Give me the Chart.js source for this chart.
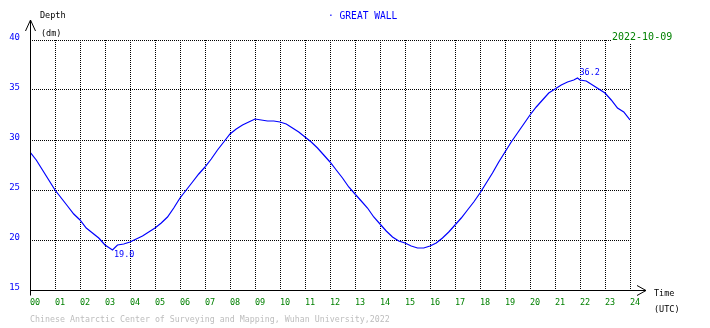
<!DOCTYPE html>
<html>
<head>
<meta charset="utf-8">
<script src="https://cdn.jsdelivr.net/npm/chart.js@4/dist/chart.umd.min.js"></script>
<style>
html,body{margin:0;padding:0;background:#fff;}
canvas{display:block;}
</style>
</head>
<body>
<canvas id="c" width="710" height="328"></canvas>
<script>
// Time of day (hours, UTC)
const hours = [0,0.25,0.5,0.75,1,1.25,1.5,1.75,2,2.25,2.5,2.75,3,3.3,3.5,3.75,4,4.25,4.5,4.75,5,5.25,5.5,5.75,6,6.25,6.5,6.75,7,7.25,7.5,7.75,8,8.25,8.5,8.75,9,9.25,9.5,9.75,10,10.25,10.5,10.75,11,11.25,11.5,11.75,12,12.25,12.5,12.75,13,13.25,13.5,13.75,14,14.25,14.5,14.75,15,15.25,15.5,15.75,16,16.25,16.5,16.75,17,17.25,17.5,17.75,18,18.25,18.5,18.75,19,19.25,19.5,19.75,20,20.25,20.5,20.75,21,21.25,21.5,21.75,21.9,22,22.25,22.5,22.75,23,23.25,23.5,23.75,24];
// Water depth (dm)
const depth = [28.8,28.0,27.0,26.0,25.0,24.2,23.4,22.6,22.0,21.2,20.7,20.2,19.5,19.0,19.5,19.6,19.8,20.1,20.4,20.8,21.2,21.7,22.3,23.2,24.2,25.0,25.8,26.6,27.3,28.1,29.0,29.8,30.6,31.1,31.5,31.8,32.1,32.0,31.9,31.9,31.8,31.6,31.2,30.8,30.3,29.8,29.2,28.5,27.8,27.0,26.2,25.3,24.6,23.9,23.2,22.3,21.6,20.9,20.3,19.9,19.7,19.4,19.2,19.2,19.4,19.7,20.2,20.8,21.5,22.2,23.0,23.8,24.7,25.7,26.7,27.8,28.8,29.8,30.7,31.6,32.5,33.3,34.0,34.7,35.1,35.5,35.8,36.0,36.2,36.0,35.9,35.5,35.1,34.7,34.0,33.2,32.8,32.0];
const xTickValues = [0,1,2,3,4,5,6,7,8,9,10,11,12,13,14,15,16,17,18,19,20,21,22,23,24];
const yTickValues = [15,20,25,30,35,40];
const stationName = "· GREAT WALL";
const dateText = "2022-10-09";
const yAxisTitle = "Depth";
const yAxisUnit = "(dm)";
const xAxisTitle = "Time";
const xAxisUnit = "(UTC)";
const footerText = "Chinese Antarctic Center of Surveying and Mapping, Wuhan University,2022";

const MONO = '"DejaVu Sans Mono", "Liberation Mono", monospace';
const BLUE = '#0000ff', GREEN = '#008000', GRAY = '#bdbdbd';

const points = hours.map((h, i) => ({x: h, y: depth[i]}));

const decor = {
  id: 'decor',
  afterDatasetsDraw(chart) {
    const ctx = chart.ctx;
    const xs = chart.scales.x, ys = chart.scales.y;
    let iMin = 0, iMax = 0;
    depth.forEach((v, i) => { if (v < depth[iMin]) iMin = i; if (v > depth[iMax]) iMax = i; });
    ctx.save();
    ctx.font = '8.5px ' + MONO;
    ctx.fillStyle = BLUE;
    ctx.textAlign = 'left';
    ctx.textBaseline = 'top';
    ctx.fillText(depth[iMin].toFixed(1), xs.getPixelForValue(hours[iMin]) + 1.5, ys.getPixelForValue(depth[iMin]) + 1);
    ctx.textBaseline = 'bottom';
    ctx.fillText(depth[iMax].toFixed(1), xs.getPixelForValue(hours[iMax]) + 2, ys.getPixelForValue(depth[iMax]) - 1);
    ctx.restore();
  },
  afterDraw(chart) {
    const ctx = chart.ctx;
    const a = chart.chartArea;
    const L = Math.round(a.left) + 0.5, B = Math.round(a.bottom) + 0.5;
    ctx.save();
    ctx.strokeStyle = '#000';
    ctx.lineWidth = 1;
    ctx.beginPath();
    ctx.moveTo(L, B + 5); ctx.lineTo(L, 20);
    ctx.moveTo(L - 5, 31); ctx.lineTo(L, 20); ctx.lineTo(L + 5, 31);
    ctx.moveTo(L, B); ctx.lineTo(646, B);
    ctx.moveTo(637, B - 5); ctx.lineTo(646, B); ctx.lineTo(637, B + 5);
    ctx.stroke();

    ctx.textBaseline = 'middle';
    ctx.textAlign = 'left';
    ctx.fillStyle = '#000';
    ctx.font = '8.5px ' + MONO;
    ctx.fillText(yAxisTitle, 40, 16);
    ctx.fillText(yAxisUnit, 41, 34);
    ctx.fillText(xAxisTitle, 654, 294);
    ctx.fillText(xAxisUnit, 654, 310);

    ctx.font = '9.6px ' + MONO;
    ctx.fillStyle = BLUE;
    ctx.fillText(stationName, 328, 16);

    ctx.font = '10px ' + MONO;
    const w = ctx.measureText(dateText).width;
    ctx.fillStyle = '#fff';
    ctx.fillRect(611, 31, w + 2, 12);
    ctx.fillStyle = GREEN;
    ctx.fillText(dateText, 612, 37);

    ctx.font = '8.3px ' + MONO;
    ctx.fillStyle = GRAY;
    ctx.fillText(footerText, 30, 320);
    ctx.restore();
  }
};

new Chart(document.getElementById('c'), {
  type: 'line',
  data: {
    datasets: [{
      data: points,
      borderColor: BLUE,
      borderWidth: 1.2,
      pointRadius: 0,
      tension: 0,
      fill: false
    }]
  },
  options: {
    responsive: false,
    animation: false,
    events: [],
    layout: {padding: {top: 40, right: 80, left: 0, bottom: 0}},
    plugins: {legend: {display: false}, tooltip: {enabled: false}, title: {display: false}},
    scales: {
      x: {
        type: 'linear', min: 0, max: 24,
        afterFit: s => { s.height = 38; },
        afterBuildTicks: s => { s.ticks = xTickValues.map(v => ({value: v})); },
        grid: {color: '#000', lineWidth: 1, drawTicks: false},
        border: {display: false, dash: [1, 1]},
        ticks: {
          autoSkip: false, maxRotation: 0, align: 'start', padding: 8,
          color: GREEN, font: {family: MONO, size: 8.5},
          callback: v => String(v).padStart(2, '0')
        }
      },
      y: {
        min: 15, max: 40,
        afterFit: s => { s.width = 30; },
        afterBuildTicks: s => { s.ticks = yTickValues.map(v => ({value: v})); },
        grid: {color: '#000', lineWidth: 1, drawTicks: false},
        border: {display: false, dash: [1, 1]},
        ticks: {
          padding: 10, labelOffset: -2,
          color: BLUE, font: {family: MONO, size: 9},
          callback: v => String(v)
        }
      }
    }
  },
  plugins: [decor]
});
</script>
</body>
</html>
